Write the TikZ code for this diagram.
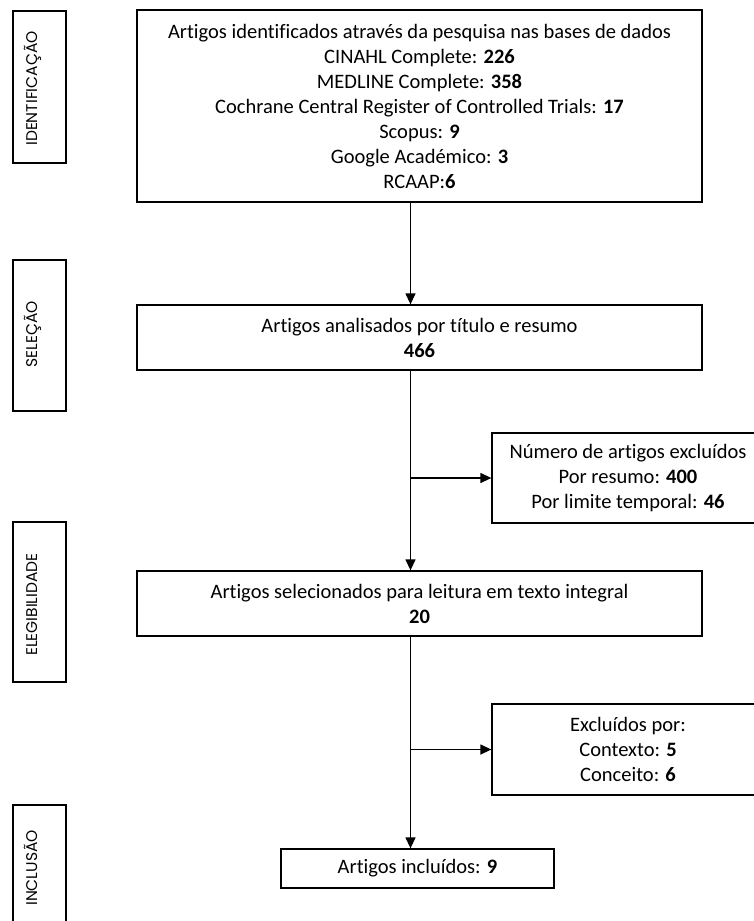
\documentclass[tikz,border=0pt]{standalone}
\usepackage{fontspec}
\setmainfont[Ligatures=NoCommon]{Carlito}
\newfontfamily\sidefont{Poppins}
\usetikzlibrary{arrows.meta}
\begin{document}
\begin{tikzpicture}[x=1pt,y=-1pt,
  box/.style={draw, line width=1.3pt, rectangle, inner sep=0pt, align=center,
    font=\fontsize{20.5}{25}\selectfont},
  sidebox/.style={draw, line width=1.3pt, rectangle, inner sep=0pt, minimum width=53pt},
  sidetext/.style={rotate=90, anchor=base, inner sep=0pt,
    font=\sidefont\fontsize{15.5}{18}\selectfont},
  conn/.style={line width=1.3pt},
  arr/.style={conn, -{Triangle[length=11pt,width=10pt]}}]
\useasboundingbox (0,0) rectangle (753,921);

% side phase labels
\node[sidebox, minimum height=152pt] (idb) at (39.5,87) {};
\node[sidetext] (idt) at (37,88.5) {IDENTIFICAÇÃO};
\node[sidebox, minimum height=151pt] (selb) at (39.5,335.5) {};
\node[sidetext] (selt) at (37,334.5) {SELEÇÃO};
\node[sidebox, minimum height=160pt] (elb) at (39.5,602) {};
\node[sidetext] (elt) at (37,604.5) {ELEGIBILIDADE};
\node[sidebox, minimum height=126pt] (inb) at (39.5,868) {};
\node[sidetext] (int) at (37,868) {INCLUSÃO};

% main boxes
\node[box, minimum width=565pt, minimum height=192pt] (b1) at (419.5,106) {%
Artigos identificados através da pesquisa nas bases de dados\\
CINAHL Complete: \textbf{226}\\
MEDLINE Complete: \textbf{358}\\
Cochrane Central Register of Controlled Trials: \textbf{17}\\
Scopus: \textbf{9}\\
Google Académico: \textbf{3}\\
RCAAP:\textbf{6}};
\node[box, minimum width=565pt, minimum height=65pt] (b2) at (419.5,337.5) {%
Artigos analisados por título e resumo\\ \textbf{466}};
\node[box, minimum width=565pt, minimum height=65pt] (b3) at (419.5,603.5) {%
Artigos selecionados para leitura em texto integral\\ \textbf{20}};
\node[box, minimum width=273pt, minimum height=39pt] (b4) at (417.5,868.5) {%
Artigos incluídos: \textbf{9}};

% exclusion boxes
\node[box, minimum width=272pt, minimum height=90pt] (x1) at (628,478) {%
Número de artigos excluídos\\ Por resumo: \textbf{400}\\ Por limite temporal: \textbf{46}};
\node[box, minimum width=272pt, minimum height=91pt] (x2) at (628,749.5) {%
Excluídos por:\\ Contexto: \textbf{5}\\ Conceito: \textbf{6}};

% connectors
\coordinate (sp) at (410.5,0);
\draw[arr] (b1.south -| sp) -- (b2.north -| sp);
\draw[arr] (b2.south -| sp) -- (b3.north -| sp);
\draw[arr] (b3.south -| sp) -- (b4.north -| sp);
\draw[arr] (sp |- x1.west) -- (x1.west);
\draw[arr] (sp |- x2.west) -- (x2.west);
\end{tikzpicture}
\end{document}
